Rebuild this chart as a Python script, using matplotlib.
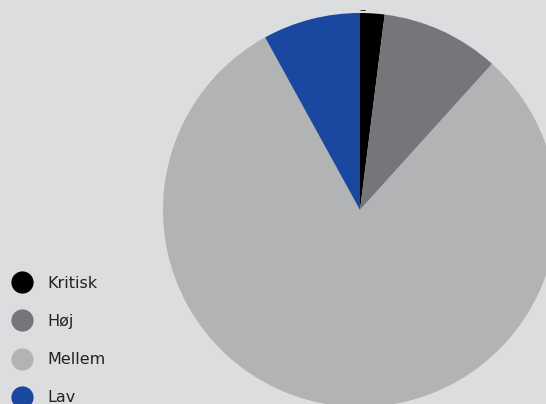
import matplotlib.pyplot as plt
from matplotlib.lines import Line2D

# --- data ---
categories = ['Kritisk', 'Høj', 'Mellem', 'Lav']
shares = [2, 9.7, 80.3, 8]
colors = ['#000000', '#75767a', '#b1b3b5', '#1a47a0']
bg = '#dcdddf'

fig = plt.figure(figsize=(5.46, 4.04), dpi=100, facecolor=bg)
ax = fig.add_axes([0, 0, 1, 1])
ax.set_facecolor(bg)

# pie centred at pixel (360, 210), radius 197 px -> axis limits in radius units
r_px = 197.0
ax.pie(shares, colors=colors, startangle=90, counterclock=False,
       radius=1, center=(0, 0), wedgeprops=dict(linewidth=0))
ax.set_xlim(-360 / r_px, (546 - 360) / r_px)
ax.set_ylim(-(404 - 210) / r_px, 210 / r_px)
ax.set_aspect('auto')
ax.axis('off')

# small dash label above the top of the pie
ax.text(0.012, 1.013, '–', ha='center', va='center', fontsize=9, color='#222222')

# legend with round markers
handles = [Line2D([0], [0], marker='o', linestyle='none', markersize=16,
                  markerfacecolor=c, markeredgewidth=0) for c in colors]
leg = fig.legend(handles, categories, loc='upper left',
                 bbox_to_anchor=(-3 / 546, 1 - 263 / 404),
                 frameon=False, fontsize=11.5, labelspacing=1.45,
                 handletextpad=0.85, borderpad=0.3, handlelength=1.5)
for t in leg.get_texts():
    t.set_color('#222222')

fig.savefig('out.png', dpi=100, facecolor=bg)
